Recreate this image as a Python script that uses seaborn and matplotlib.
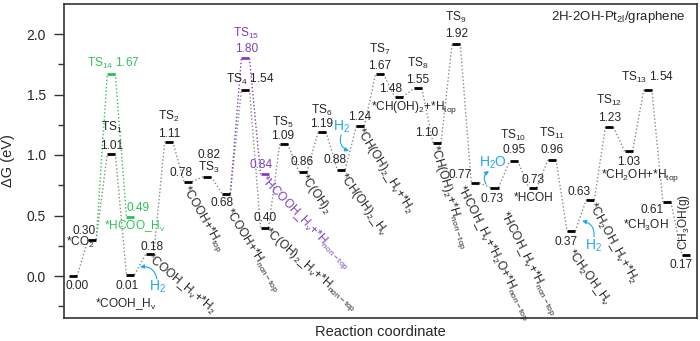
import numpy as np
import pandas as pd
import matplotlib
matplotlib.use("Agg")
import matplotlib.pyplot as plt
from matplotlib.ticker import MultipleLocator
import seaborn as sns

# ---------------- data ----------------
steps = list(range(33))
dG = [0.00, 0.30, 1.01, 0.01, 0.18, 1.11, 0.78, 0.82, 0.68, 1.54, 0.40,
      1.09, 0.86, 1.19, 0.88, 1.24, 1.67, 1.48, 1.55, 1.10, 1.92, 0.77,
      0.73, 0.95, 0.73, 0.96, 0.37, 0.63, 1.23, 1.03, 1.54, 0.61, 0.17]
ts_names = {2: "TS$_1$", 5: "TS$_2$", 7: "TS$_3$", 9: "TS$_4$", 11: "TS$_5$",
            13: "TS$_6$", 16: "TS$_7$", 18: "TS$_8$", 20: "TS$_9$",
            23: "TS$_{10}$", 25: "TS$_{11}$", 28: "TS$_{12}$", 30: "TS$_{13}$"}
species = {1: "*CO$_2$", 3: "*COOH_H$_v$", 4: "*COOH_H$_v$+*H$_2$",
           6: "*COOH+*H$_{top}$", 8: "*COOH+*H$_{non-top}$",
           10: "*C(OH)$_2$_H$_v$+*H$_{non-top}$", 12: "*C(OH)$_2$",
           14: "*CH(OH)$_2$_H$_v$", 15: "*CH(OH)$_2$_H$_v$+*H$_2$",
           17: "*CH(OH)$_2$+*H$_{top}$", 19: "*CH(OH)$_2$+*H$_{non-top}$",
           21: "*HCOH_H$_v$+*H$_2$O+*H$_{non-top}$",
           22: "*HCOH_H$_v$+*H$_{non-top}$", 24: "*HCOH",
           26: "*CH$_2$OH_H$_v$", 27: "*CH$_2$OH_H$_v$+*H$_2$",
           29: "*CH$_2$OH+*H$_{top}$", 31: "*CH$_3$OH", 32: "CH$_3$OH(g)"}

green_steps = [1, 2, 3]
green_dG = [0.30, 1.67, 0.49]
green_ts = "TS$_{14}$"
green_species = "*HCOO_H$_v$"

purple_steps = [8, 9, 10]
purple_dG = [0.68, 1.80, 0.84]
purple_ts = "TS$_{15}$"
purple_species = "*HCOOH_H$_v$+*H$_{non-top}$"

title = "2H-2OH-Pt$_{2l}$/graphene"

# ---------------- style ----------------
sns.set_style("ticks")
plt.rcParams["font.family"] = ["Liberation Sans", "DejaVu Sans"]
plt.rcParams["mathtext.default"] = "regular"

GRAY = "#8a8a8a"
GREEN = "#2fc25a"
PURPLE = "#7d3fbf"
CYAN = "#1fa8ee"
FS = 8.6

fig = plt.figure(figsize=(7.0, 3.41), dpi=100)
ax = fig.add_axes([64 / 700, 1 - 318 / 341, 633 / 700, 314 / 341])

HW = 0.21  # half width of level bars (in step units)


def segments(xs, gs, name):
    rows = []
    for k in range(len(xs) - 1):
        rows.append(dict(x=xs[k] + HW, g=gs[k], seg=k, path=name))
        rows.append(dict(x=xs[k + 1] - HW, g=gs[k + 1], seg=k, path=name))
    return pd.DataFrame(rows)


for xs, gs, col, nm in [(steps, dG, GRAY, "main"),
                        (green_steps, green_dG, GREEN, "green"),
                        (purple_steps, purple_dG, PURPLE, "purple")]:
    df = segments(xs, gs, nm)
    sns.lineplot(data=df, x="x", y="g", units="seg", estimator=None,
                 sort=False, color=col, lw=1.0, ls=(0, (1, 1.6)), ax=ax,
                 legend=False)

# level bars
ax.hlines(dG, np.array(steps) - HW, np.array(steps) + HW, color="black", lw=2)
ax.hlines(green_dG[1:], np.array(green_steps[1:]) - HW,
          np.array(green_steps[1:]) + HW, color=GREEN, lw=2)
ax.hlines(purple_dG[1:], np.array(purple_steps[1:]) - HW,
          np.array(purple_steps[1:]) + HW, color=PURPLE, lw=2)


def lab(x, g, s, dx, dy, **kw):
    kw.setdefault("ha", "center")
    kw.setdefault("va", "center")
    kw.setdefault("fontsize", FS)
    ax.annotate(s, (x, g), xytext=(dx * 0.72, dy * 0.72),
                textcoords="offset points", **kw)


# value labels (pixel offsets)
val_off = {0: (4, -10), 1: (-8, 9), 2: (0, 8), 3: (-3, -11), 4: (2, 7),
           5: (0, 8), 6: (-7, 9), 7: (2, 22), 8: (-4, -9), 10: (0, 10),
           11: (-1, 8), 12: (-1, 10), 13: (0, 8), 14: (-6, 10), 15: (-1, 9),
           16: (0, 8), 17: (-8, 8), 18: (0, 8), 19: (-10, 10), 20: (0, 10),
           21: (-15, 8), 22: (-2, -11), 23: (0, 11), 24: (0, 8), 25: (0, 10),
           26: (-5, -11), 27: (-11, 8), 28: (0, 9), 29: (0, -11),
           31: (-15, -8), 32: (-5, -10)}
for i, (dx, dy) in val_off.items():
    lab(steps[i], dG[i], f"{dG[i]:.2f}", dx, dy)

ts_off = {2: (0, 26), 5: (0, 25), 7: (2, 9), 11: (-1, 22), 13: (0, 22),
          16: (0, 24), 18: (0, 25), 20: (0, 26), 23: (0, 26), 25: (0, 26),
          28: (0, 27)}
for i, (dx, dy) in ts_off.items():
    lab(steps[i], dG[i], ts_names[i], dx, dy)
# combined "TS 1.54" labels
lab(steps[9], dG[9], f"{ts_names[9]} {dG[9]:.2f}", 5, 10)
lab(steps[30], dG[30], f"{ts_names[30]} {dG[30]:.2f}", 0, 12)

# species labels: (dx, dy, rotation, ha)
sp_lay = {1: (-12, -3, 0, "center"), 3: (-5, -29, 0, "center"),
          4: (-2, -2, -40, "left"), 6: (-4, -5, -60, "left"),
          8: (1, -16, -58, "left"), 10: (1, -3, -41, "left"),
          12: (0, -3, -55, "left"), 14: (0, -5, -54, "left"),
          15: (-2, -3, -58, "left"), 17: (-28, -11, 0, "left"),
          19: (-4, -3, -73, "left"), 21: (-16, -3, -63, "left"),
          22: (8, -24, -63, "left"), 24: (1, -10, 0, "center"),
          26: (-2, -19, -54, "left"), 27: (1, -3, -61, "left"),
          29: (12, -24, 0, "center"), 31: (-21, -23, 0, "center"),
          32: (-2, 5, 90, "left")}
for i, (dx, dy, rot, ha) in sp_lay.items():
    lab(steps[i], dG[i], species[i], dx, dy, rotation=rot, ha=ha,
        rotation_mode="anchor")

# green branch labels
lab(green_steps[1], green_dG[1], f"{green_ts} {green_dG[1]:.2f}", 2, 10,
    color=GREEN)
lab(green_steps[2], green_dG[2], f"{green_dG[2]:.2f}", 8, 9, color=GREEN)
lab(green_steps[2], green_dG[2], green_species, 4, -9, color=GREEN)

# purple branch labels
lab(purple_steps[1], purple_dG[1], purple_ts, 1, 25, color=PURPLE)
lab(purple_steps[1], purple_dG[1], f"{purple_dG[1]:.2f}", 1, 9, color=PURPLE)
lab(purple_steps[2], purple_dG[2], f"{purple_dG[2]:.2f}", -4, 9, color=PURPLE)
lab(purple_steps[2], purple_dG[2], purple_species, -2, -4, color=PURPLE,
    rotation=-46, ha="left", rotation_mode="anchor")

# cyan gas release annotations (pixel -> data helpers)
S = 633 / 33.04
V = 121.0


def px(xp, yp):
    return ((xp - 73) / S, (276 - yp) / V)


arrow_kw = dict(arrowstyle="-|>", color=CYAN, lw=0.8, mutation_scale=6,
                shrinkA=0, shrinkB=0)
for (tx, ty), (sx, sy), (hx, hy), rad in [((158, 287), (157, 279), (140, 267), 0.45),
                                          ((342, 127), (341, 135), (349, 151), 0.45),
                                          ((594, 246), (594, 237), (582, 221), 0.45)]:
    ax.text(*px(tx, ty), "H$_2$", color=CYAN, fontsize=10, ha="center",
            va="center")
    ax.annotate("", xy=px(hx, hy), xytext=px(sx, sy),
                arrowprops=dict(connectionstyle=f"arc3,rad={rad}", **arrow_kw))
ax.text(*px(493, 163), "H$_2$O", color=CYAN, fontsize=10, ha="center",
        va="center")
ax.annotate("", xy=px(489, 171), xytext=px(486, 184),
            arrowprops=dict(connectionstyle="arc3,rad=-0.45", **arrow_kw))

ax.text(0.981, 0.959, title, transform=ax.transAxes, ha="right", va="center",
        fontsize=9.5)

# axes
ax.set_xlim((64 - 73) / S, (697 - 73) / S)
ax.set_ylim(-(318 - 276) / V, (276 - 4) / V)
ax.yaxis.set_major_locator(MultipleLocator(0.5))
ax.yaxis.set_minor_locator(MultipleLocator(0.25))
ax.yaxis.set_major_formatter(matplotlib.ticker.FormatStrFormatter("%.1f"))
ax.set_xticks([])
ax.tick_params(axis="y", which="major", length=7, width=1, labelsize=10,
               pad=6, color="#333333")
ax.tick_params(axis="y", which="minor", length=4, width=1, color="#333333")
for sp in ax.spines.values():
    sp.set_visible(True)
    sp.set_linewidth(1.2)
    sp.set_color("#333333")
ax.set_ylabel("ΔG (eV)", fontsize=10.5, labelpad=8)
ax.set_xlabel("Reaction coordinate", fontsize=10.5, labelpad=5)

fig.savefig("out.png", dpi=100)
